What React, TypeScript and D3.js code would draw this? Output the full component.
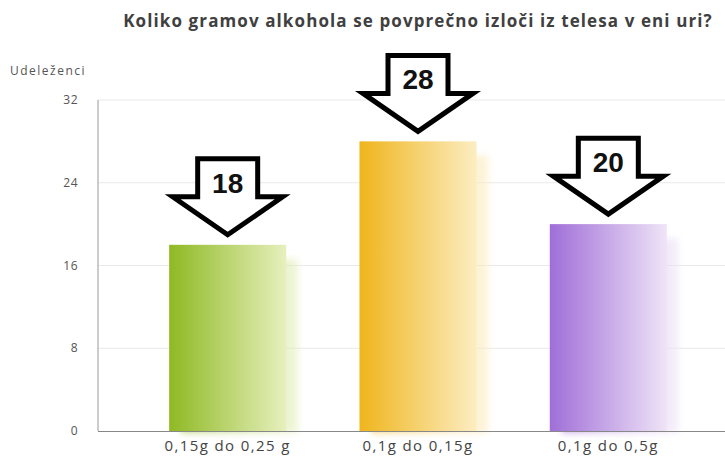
import React from "react";
import * as d3 from "d3";

const categories = ["0,15g do 0,25 g", "0,1g do 0,15g", "0,1g do 0,5g"];
const values = [18, 28, 20];
const yTicks = [0, 8, 16, 24, 32];
const colorsDark = ["#8fb923", "#efb51c", "#a06ed8"];
const colorsLight = ["#e6f0bd", "#fcedc2", "#efe4f7"];
const title = "Koliko gramov alkohola se povprečno izloči iz telesa v eni uri?";
const yTitle = "Udeleženci";

export default function App() {
  const W = 725, H = 457;
  const x0 = 98, yBottom = 431, yTop = 100;
  const x = d3.scaleBand<string>().domain(categories).range([133, 703]).paddingInner(0.385).paddingOuter(0.19);
  const y = d3.scaleLinear().domain([0, 32]).range([yBottom, yTop]);
  const font = "'Open Sans', 'DejaVu Sans', sans-serif";

  const arrowPath = (cx: number, tip: number) => {
    const hw = 55, sw = 30, sh = 38, top = 76;
    return `M${cx - sw},${tip - top} L${cx + sw},${tip - top} L${cx + sw},${tip - sh} L${cx + hw},${tip - sh} L${cx},${tip} L${cx - hw},${tip - sh} L${cx - sw},${tip - sh} Z`;
  };

  return (
    <svg width={W} height={H} style={{ position: "absolute", left: 0, top: 0, background: "#fff" }}>
      <defs>
        {categories.map((c, i) => (
          <linearGradient key={c} id={`g${i}`} x1="0" x2="1" y1="0" y2="0">
            <stop offset="0%" stopColor={colorsDark[i]} />
            <stop offset="100%" stopColor={colorsLight[i]} />
          </linearGradient>
        ))}
        <filter id="blur" x="-20%" y="-20%" width="140%" height="140%">
          <feGaussianBlur stdDeviation="3" />
        </filter>
      </defs>
      <text x={418} y={27} textAnchor="middle" fontFamily={font} fontWeight="bold" fontSize={17} letterSpacing={1.1} fill="#404040">{title}</text>
      <text x={10} y={75} fontFamily={font} fontSize={12} letterSpacing={1.5} fill="#555">{yTitle}</text>
      {yTicks.map(t => (
        <g key={t}>
          {t > 0 && <line x1={x0} x2={W} y1={y(t)} y2={y(t)} stroke="#e9e9e9" strokeWidth={1} />}
          <text x={78} y={y(t) + 4} textAnchor="end" fontFamily={font} fontSize={12} letterSpacing={0.5} fill="#555">{t}</text>
        </g>
      ))}
      {categories.map((c, i) => {
        const bx = x(c)!, bw = x.bandwidth(), by = y(values[i]);
        return (
          <g key={c}>
            <rect x={bx + 12} y={by + 14} width={bw} height={yBottom - by - 12} fill={`url(#g${i})`} opacity={0.55} filter="url(#blur)" />
            <rect x={bx} y={by} width={bw} height={yBottom - by} fill={`url(#g${i})`} />
          </g>
        );
      })}
      <line x1={x0} x2={x0} y1={yTop} y2={yBottom} stroke="#999" strokeWidth={1} />
      <line x1={x0} x2={W} y1={yBottom + 0.5} y2={yBottom + 0.5} stroke="#888" strokeWidth={1} />
      {categories.map((c, i) => (
        <text key={c} x={x(c)! + x.bandwidth() / 2} y={451} textAnchor="middle" fontFamily={font} fontSize={15} letterSpacing={1.4} fill="#444">{c}</text>
      ))}
      {categories.map((c, i) => {
        const cx = x(c)! + x.bandwidth() / 2;
        const tip = y(values[i]) - 10;
        return (
          <g key={c}>
            <path d={arrowPath(cx, tip)} fill="#fff" stroke="#000" strokeWidth={5} strokeLinejoin="miter" />
            <text x={cx} y={tip - 42} textAnchor="middle" fontFamily="'Liberation Sans', Arial, sans-serif" fontWeight="bold" fontSize={28} fill="#111">{values[i]}</text>
          </g>
        );
      })}
    </svg>
  );
}
